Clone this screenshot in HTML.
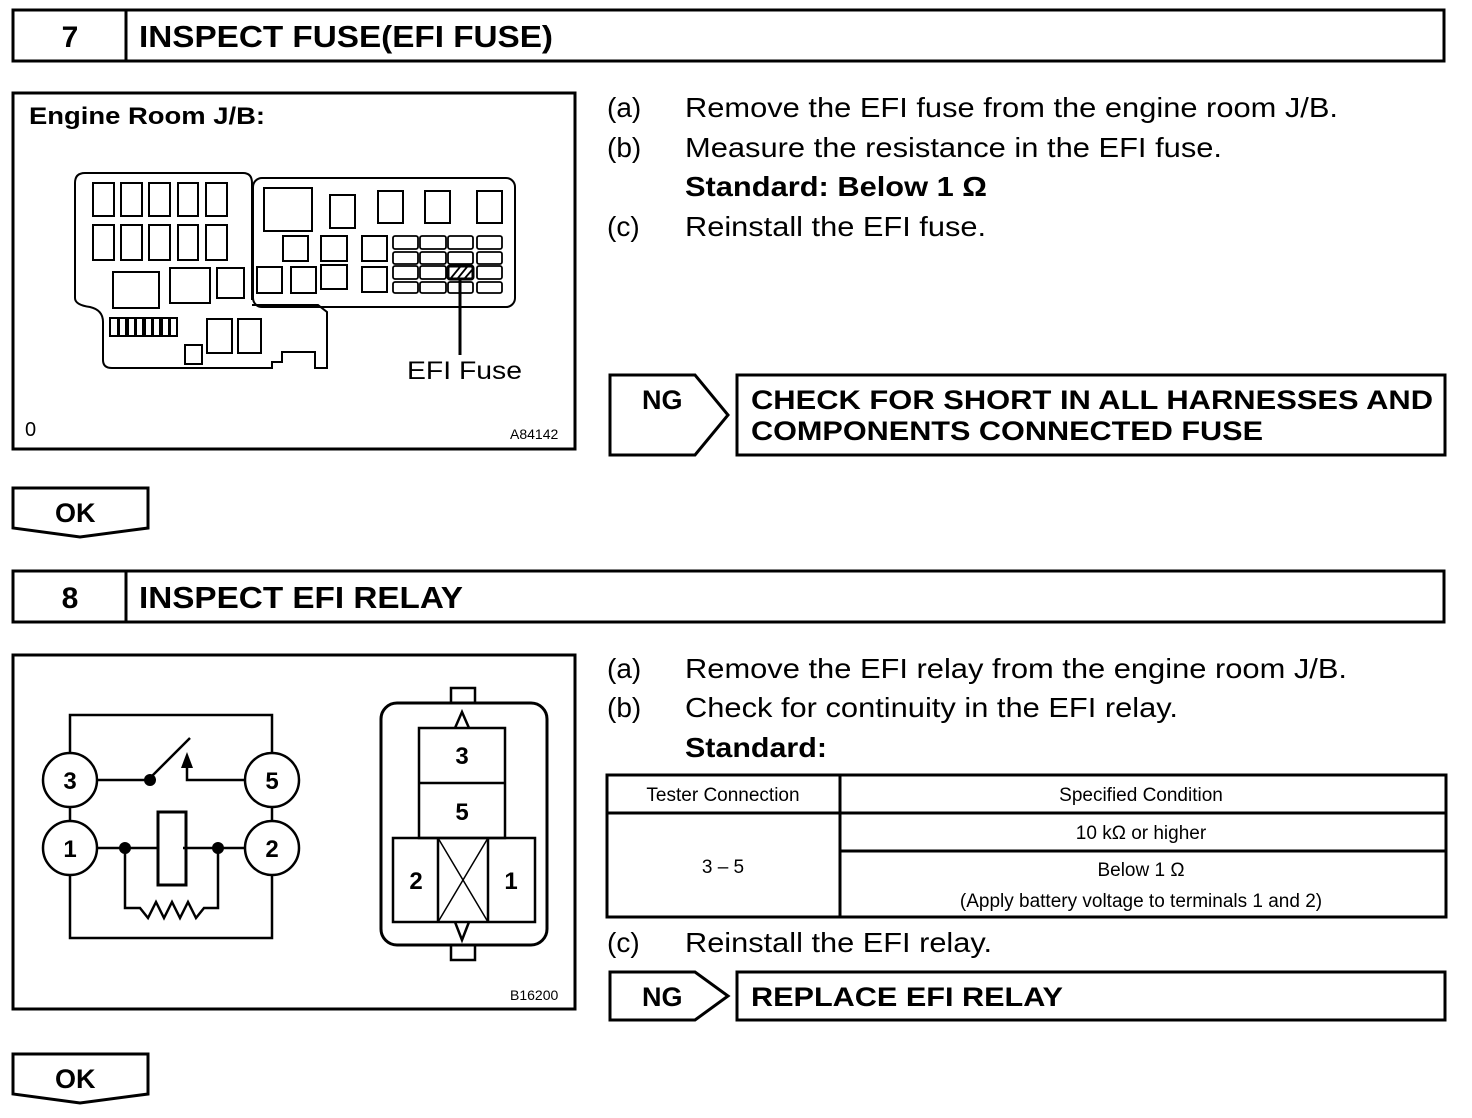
<!DOCTYPE html>
<html><head><meta charset="utf-8"><style>html,body{margin:0;padding:0;background:#fff}svg{display:block}</style></head><body>
<svg width="1472" height="1118" viewBox="0 0 1472 1118" xmlns="http://www.w3.org/2000/svg" font-family="Liberation Sans, Arial, sans-serif">
<g fill="none" stroke="#000" stroke-width="3">
<rect x="13" y="10" width="1431" height="51"/><line x1="126" y1="10" x2="126" y2="61"/>
<rect x="13" y="571" width="1431" height="51"/><line x1="126" y1="571" x2="126" y2="622"/>
<rect x="13" y="93" width="562" height="356"/>
<rect x="13" y="655" width="562" height="354"/>
<path d="M610 375 H695 L728 415 L695 455 H610 Z"/>
<rect x="737" y="375" width="708" height="80"/>
<path d="M610 972 H695 L728 996 L695 1020 H610 Z"/>
<rect x="737" y="972" width="708" height="48"/>
<path d="M13 488 H148 V528 L80 537 L13 528 Z"/>
<path d="M13 1054 H148 V1094 L80 1103 L13 1094 Z"/>
<rect x="607" y="775" width="839" height="142"/>
<line x1="840" y1="775" x2="840" y2="917"/>
<line x1="607" y1="813" x2="1446" y2="813"/>
<line x1="840" y1="851" x2="1446" y2="851"/>
</g>
<g fill="#000">
<text x="70" y="47" font-size="30" font-weight="bold" text-anchor="middle">7</text>
<text x="139" y="47" font-size="31" font-weight="bold" textLength="414" lengthAdjust="spacingAndGlyphs">INSPECT FUSE(EFI FUSE)</text>
<text x="70" y="608" font-size="30" font-weight="bold" text-anchor="middle">8</text>
<text x="139" y="608" font-size="31" font-weight="bold" textLength="324" lengthAdjust="spacingAndGlyphs">INSPECT EFI RELAY</text>
<text x="29" y="124" font-size="24" font-weight="bold" textLength="236" lengthAdjust="spacingAndGlyphs">Engine Room J/B:</text>
<text x="407" y="379" font-size="25" textLength="115" lengthAdjust="spacingAndGlyphs">EFI Fuse</text>
<text x="25" y="436" font-size="20">0</text>
<text x="510" y="439" font-size="14">A84142</text>
<text x="510" y="1000" font-size="14">B16200</text>
<g font-size="28">
<text x="607" y="117">(a)</text><text x="685" y="117" textLength="653" lengthAdjust="spacingAndGlyphs">Remove the EFI fuse from the engine room J/B.</text>
<text x="607" y="157">(b)</text><text x="685" y="157" textLength="537" lengthAdjust="spacingAndGlyphs">Measure the resistance in the EFI fuse.</text>
<text x="685" y="196" font-weight="bold" textLength="302" lengthAdjust="spacingAndGlyphs">Standard: Below 1 Ω</text>
<text x="607" y="236">(c)</text><text x="685" y="236" textLength="301" lengthAdjust="spacingAndGlyphs">Reinstall the EFI fuse.</text>
<text x="607" y="678">(a)</text><text x="685" y="678" textLength="662" lengthAdjust="spacingAndGlyphs">Remove the EFI relay from the engine room J/B.</text>
<text x="607" y="717">(b)</text><text x="685" y="717" textLength="493" lengthAdjust="spacingAndGlyphs">Check for continuity in the EFI relay.</text>
<text x="685" y="757" font-weight="bold" textLength="142" lengthAdjust="spacingAndGlyphs">Standard:</text>
<text x="607" y="952">(c)</text><text x="685" y="952" textLength="307" lengthAdjust="spacingAndGlyphs">Reinstall the EFI relay.</text>
</g>
<g font-size="27" font-weight="bold">
<text x="642" y="409">NG</text>
<text x="751" y="409" textLength="682" lengthAdjust="spacingAndGlyphs">CHECK FOR SHORT IN ALL HARNESSES AND</text>
<text x="751" y="440" textLength="512" lengthAdjust="spacingAndGlyphs">COMPONENTS CONNECTED FUSE</text>
<text x="642" y="1006">NG</text>
<text x="751" y="1006" textLength="312" lengthAdjust="spacingAndGlyphs">REPLACE EFI RELAY</text>
<text x="55" y="522">OK</text>
<text x="55" y="1088">OK</text>
</g>
<g font-size="19" text-anchor="middle">
<text x="723" y="801">Tester Connection</text>
<text x="1141" y="801">Specified Condition</text>
<text x="1141" y="839">10 kΩ or higher</text>
<text x="723" y="873">3 – 5</text>
<text x="1141" y="876">Below 1 Ω</text>
<text x="1141" y="907">(Apply battery voltage to terminals 1 and 2)</text>
</g>
</g>
<!-- fuse block -->
<g fill="none" stroke="#000" stroke-width="2">
<path d="M85 173 H243 Q252 173 252 183 V300 M75 183 Q75 173 85 173 M75 183 V298 Q75 305 90 307 Q103 310 103 322 V360 Q103 368 112 368 H272 V362 H282 V352 H315 V368 H327 V312 L318 305 H252"/>
<rect x="253" y="178" width="262" height="129" rx="9"/>
<rect x="93" y="183" width="21" height="33"/><rect x="121" y="183" width="21" height="33"/><rect x="149" y="183" width="21" height="33"/><rect x="178" y="183" width="20" height="33"/><rect x="206" y="183" width="21" height="33"/>
<rect x="93" y="225" width="21" height="35"/><rect x="121" y="225" width="21" height="35"/><rect x="149" y="225" width="21" height="35"/><rect x="178" y="225" width="20" height="35"/><rect x="206" y="225" width="21" height="35"/>
<rect x="113" y="272" width="46" height="36"/><rect x="170" y="268" width="40" height="35"/><rect x="217" y="268" width="27" height="30"/>
<rect x="110" y="318" width="8" height="18"/><rect x="119" y="318" width="7" height="18"/><rect x="128" y="318" width="7" height="18"/><rect x="136" y="318" width="7" height="18"/><rect x="145" y="318" width="7" height="18"/><rect x="153" y="318" width="7" height="18"/><rect x="162" y="318" width="7" height="18"/><rect x="170" y="318" width="7" height="18"/>
<rect x="207" y="319" width="25" height="34"/><rect x="238" y="319" width="23" height="34"/><rect x="185" y="345" width="17" height="19"/>
<rect x="264" y="188" width="48" height="43"/><rect x="330" y="195" width="25" height="33"/><rect x="378" y="191" width="25" height="32"/><rect x="425" y="191" width="25" height="32"/><rect x="477" y="191" width="25" height="32"/>
<rect x="283" y="236" width="25" height="25"/><rect x="321" y="236" width="26" height="25"/><rect x="362" y="236" width="25" height="25"/>
<rect x="257" y="267" width="25" height="26"/><rect x="291" y="267" width="25" height="26"/><rect x="321" y="265" width="26" height="24"/><rect x="362" y="267" width="25" height="25"/>
<g stroke-width="1.8">
<rect x="393" y="236" width="25" height="13" rx="2"/><rect x="420" y="236" width="26" height="13" rx="2"/><rect x="448" y="236" width="25" height="13" rx="2"/><rect x="477" y="236" width="25" height="13" rx="2"/>
<rect x="393" y="252" width="25" height="12" rx="2"/><rect x="420" y="252" width="26" height="12" rx="2"/><rect x="448" y="252" width="25" height="12" rx="2"/><rect x="477" y="252" width="25" height="12" rx="2"/>
<rect x="393" y="266" width="25" height="13" rx="2"/><rect x="420" y="266" width="26" height="13" rx="2"/><rect x="448" y="266" width="25" height="13" rx="2" stroke-width="3"/><rect x="477" y="266" width="25" height="13" rx="2"/>
<rect x="393" y="282" width="25" height="11" rx="2"/><rect x="420" y="282" width="26" height="11" rx="2"/><rect x="448" y="282" width="25" height="11" rx="2"/><rect x="477" y="282" width="25" height="11" rx="2"/>
<path d="M451 278 L460 267 M458 278 L467 267 M465 278 L472 270"/>
</g>
<line x1="460" y1="279" x2="460" y2="355" stroke-width="3"/>
</g>
<!-- relay circuit -->
<g fill="none" stroke="#000" stroke-width="2.5">
<path d="M70 753 V715 H272 V753"/>
<path d="M70 876 V938 H272 V876"/>
<line x1="70" y1="807" x2="70" y2="821"/><line x1="272" y1="807" x2="272" y2="821"/>
<circle cx="70" cy="780" r="27"/><circle cx="272" cy="780" r="27"/>
<circle cx="70" cy="848" r="27"/><circle cx="272" cy="848" r="27"/>
<line x1="97" y1="780" x2="150" y2="780"/><line x1="150" y1="778" x2="190" y2="738"/>
<path d="M245 780 H187 V764"/>
<line x1="97" y1="848" x2="158" y2="848"/><line x1="183" y1="848" x2="245" y2="848"/>
<rect x="158" y="812" width="28" height="73" stroke-width="3"/>
<path d="M125 848 V908 H140 L148 918 L156 902 L164 918 L172 902 L180 918 L188 902 L196 918 L204 908 H218 V848"/>
<rect x="381" y="703" width="166" height="242" rx="16" stroke-width="3"/>
<rect x="451" y="688" width="24" height="15"/><rect x="451" y="945" width="24" height="15"/>
<path d="M455 728 L462 712 L469 728"/><path d="M455 922 L462 940 L469 922"/>
<rect x="419" y="728" width="86" height="110"/><line x1="419" y1="783" x2="505" y2="783"/>
<rect x="393" y="838" width="142" height="84"/><line x1="438" y1="838" x2="438" y2="922"/><line x1="488" y1="838" x2="488" y2="922"/>
<path d="M438 838 L488 922 M488 838 L438 922" stroke-width="1.5"/>
</g>
<g fill="#000">
<circle cx="150" cy="780" r="6"/><circle cx="125" cy="848" r="6"/><circle cx="218" cy="848" r="6"/>
<path d="M181 768 L187 752 L193 768 Z"/>
<g font-size="24" font-weight="bold" text-anchor="middle">
<text x="70" y="789">3</text><text x="272" y="789">5</text><text x="70" y="857">1</text><text x="272" y="857">2</text>
<text x="462" y="764">3</text><text x="462" y="820">5</text><text x="416" y="889">2</text><text x="511" y="889">1</text>
</g>
</g>
</svg>
</body></html>
